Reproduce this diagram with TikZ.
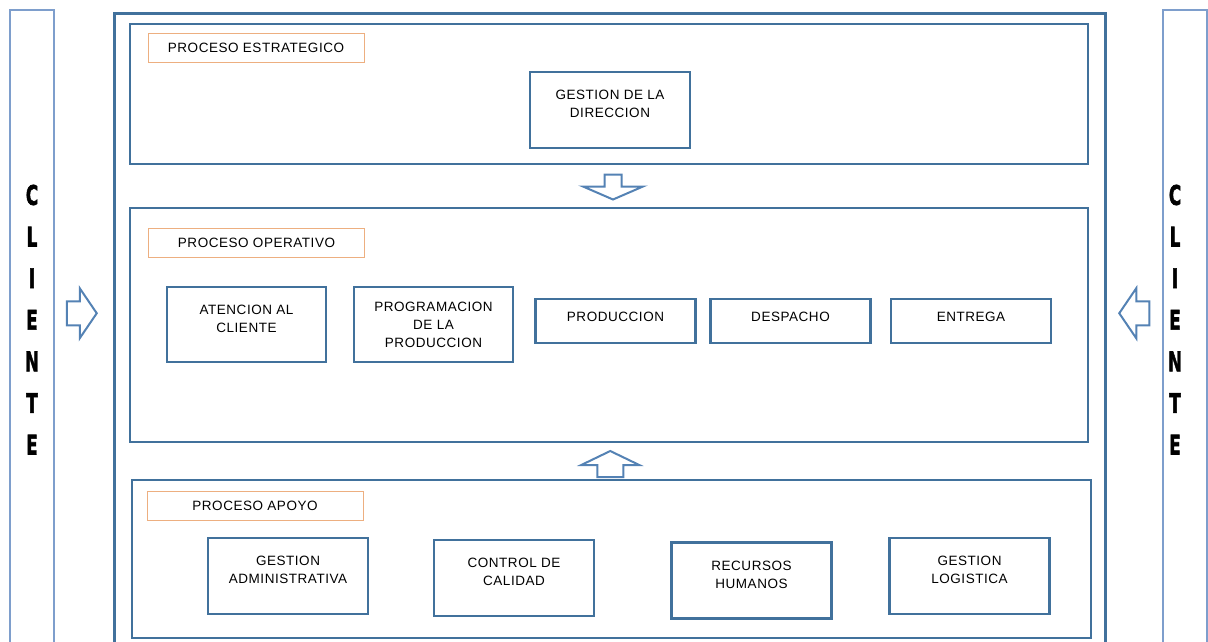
\documentclass[tikz,border=0pt]{standalone}
\usepackage{graphicx}
\usepackage{fontspec}
\setmainfont{Liberation Sans}[LetterSpace=4]
\newfontfamily\clifont{DejaVu Sans}[BoldFeatures={FakeBold=2.5}]
\usetikzlibrary{calc}
\definecolor{boxblue}{RGB}{65,113,156}
\definecolor{colblue}{RGB}{126,158,204}
\definecolor{lblorange}{RGB}{237,175,128}
\definecolor{arrblue}{RGB}{84,130,180}
\begin{document}
\begin{tikzpicture}[x=1pt,y=-1pt,font=\fontsize{13.5}{18}\selectfont,
  secbox/.style={draw=boxblue,line width=2.5pt,inner sep=0pt},
  procbox/.style={draw=boxblue,line width=2.5pt,inner sep=0pt,align=center,
    minimum width=160pt,minimum height=76pt,text depth=12pt},
  flatbox/.style={procbox,minimum height=44pt,text depth=8pt},
  lblbox/.style={draw=lblorange,line width=1pt,inner sep=0pt,minimum width=216pt,minimum height=29pt},
  colbox/.style={draw=colblue,line width=2pt,inner sep=0pt,minimum width=44pt,minimum height=640pt},
  clitext/.style={font=\clifont\bfseries\fontsize{27}{27}\selectfont,inner sep=0pt},
  arrowline/.style={draw=arrblue,line width=2pt,fill=white,line join=miter},
  pics/blkarrow/.style n args={4}{code={
    \draw[arrowline] (-#1/2,-#3) -- (#1/2-#2,-#3) -- (#1/2-#2,-#4) -- (#1/2,0)
      -- (#1/2-#2,#4) -- (#1/2-#2,#3) -- (-#1/2,#3) -- cycle;}}]
  \useasboundingbox (0,0) rectangle (1208,641);
  \node[colbox] (colL) at (32,330) {};
  \node[colbox] (colR) at (1185,330) {};
  \foreach \cx/\side in {32/l,1175/r}{
    \foreach \l [count=\i] in {C,L,I,E,N,T,E}{
      \node[clitext] (cli-\side-\i) at (\cx,195+41.6*\i-41.6) {\scalebox{0.62}[1]{\l}};}}
  \node[secbox,line width=3pt,minimum width=991pt,minimum height=647pt] (outer) at (609.5,336.5) {};
  \node[secbox,minimum width=958pt,minimum height=140pt] (estrat) at (609,94) {};
  \node[secbox,minimum width=958pt,minimum height=234pt] (oper) at (609,325) {};
  \node[secbox,minimum width=959pt,minimum height=158pt] (apoyo) at (611.5,559) {};
  \node[lblbox] (lbl-estrat) at (256,47.5) {PROCESO ESTRATEGICO};
  \node[lblbox] (lbl-oper) at (256.5,242.5) {PROCESO OPERATIVO};
  \node[lblbox] (lbl-apoyo) at (255,506) {PROCESO APOYO};
  \node[procbox] (direccion) at (610,110) {GESTION DE LA\\DIRECCION};
  \node[procbox,minimum width=159pt,minimum height=75pt] (atencion) at (246.5,324.5) {ATENCION AL\\CLIENTE};
  \node[procbox,minimum width=159pt,minimum height=75pt,text depth=0pt] (program) at (433.5,324.5)
    {PROGRAMACION\\DE LA\\PRODUCCION};
  \node[flatbox] (produc) at (615.5,321) {PRODUCCION};
  \node[flatbox] (despacho) at (790.5,321) {DESPACHO};
  \node[flatbox] (entrega) at (971,321) {ENTREGA};
  \node[procbox] (gadmin) at (288,576) {GESTION\\ADMINISTRATIVA};
  \node[procbox] (calidad) at (514,578) {CONTROL DE\\CALIDAD};
  \node[procbox] (rrhh) at (751.5,580.5) {RECURSOS\\HUMANOS};
  \node[procbox] (glog) at (969.5,576) {GESTION\\LOGISTICA};
  \pic[rotate=-90] at ($(estrat.south)!.5!(oper.north)+(4,1)$) {blkarrow={25}{13}{8.5}{30}};
  \pic[rotate=90] at ($(oper.south)!.5!(apoyo.north)+(0,3)$) {blkarrow={26}{14}{13}{29}};
  \pic at ($(colL.east)!.5!(outer.west)+(-2,-20)$) {blkarrow={30}{17}{12}{25}};
  \pic[rotate=180] at ($(outer.east)!.5!(colR.west)+(0,-20)$) {blkarrow={30}{17}{12}{25}};
\end{tikzpicture}
\end{document}
